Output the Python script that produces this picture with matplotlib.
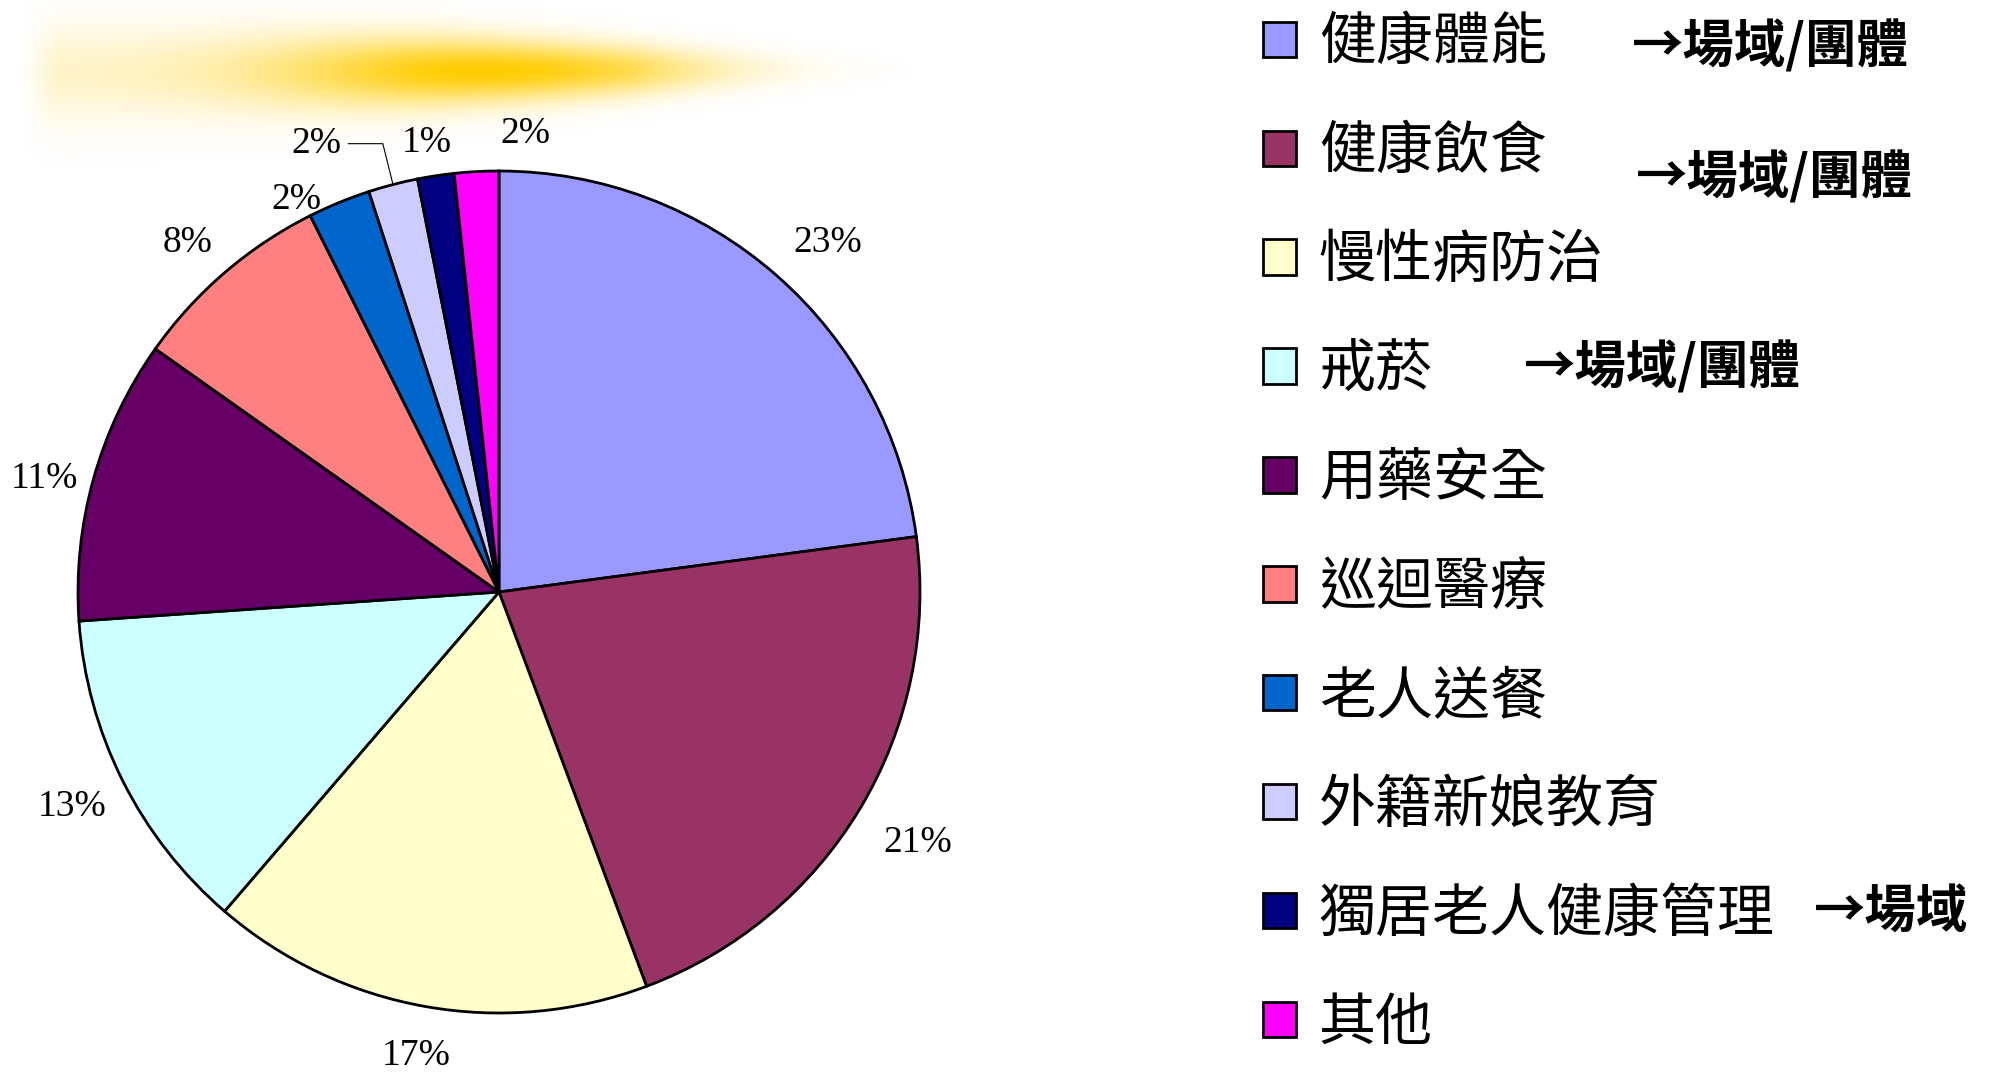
import matplotlib
matplotlib.use("Agg")
import matplotlib.pyplot as plt
import numpy as np

categories = ["健康體能", "健康飲食", "慢性病防治", "戒菸", "用藥安全",
              "巡迴醫療", "老人送餐", "外籍新娘教育", "獨居老人健康管理", "其他"]
shares = [22.9, 21.4, 17.0, 12.6, 10.9, 7.8, 2.4, 1.9, 1.4, 1.7]
colors = ["#9999FF", "#993366", "#FFFFCC", "#CCFFFF", "#660066",
          "#FF8080", "#0066CC", "#CCCCFF", "#000080", "#FF00FF"]
notes = ["→場域/團體", "→場域/團體", "", "→場域/團體", "", "", "", "", "→場域", ""]

# where the percent labels sit: distance from centre (radius=1) and angle nudge
label_radius = [1.14, 1.16, 1.12, 1.135, 1.113, 1.112, 1.05, 1.15, 1.08, 1.09]
label_nudge = [-2, 0, 0, 0, 1.7, 1.0, 5, 7.6, 0.5, -6.3]
# note positions in figure pixels (x of left edge, y of centre from top)
note_pos = {0: (1632, 47), 1: (1636, 178), 3: (1524, 368), 8: (1814, 912)}

W, H = 1991, 1078
plt.rcParams['font.family'] = ['Noto Sans CJK TC', 'DejaVu Sans']
fig = plt.figure(figsize=(W / 100, H / 100), dpi=100)

# yellow glow at top left
bg = fig.add_axes([0, 0, 1, 1], zorder=0)
bg.axis('off')
xs = np.arange(0, 1000)
ys = np.arange(0, 170)
gx, gy = np.meshgrid(xs, ys)
t = np.clip((gx - 20) / 920.0, 0, 1)
amp = np.where(t < 0.5, 0.2 + 0.8 * np.exp(-((t - 0.5) / 0.22) ** 2),
               np.exp(-((t - 0.5) / 0.27) ** 2) * np.clip((1 - t) * 3, 0, 1))
amp = amp * np.clip(t * 25, 0, 1)
amp[(gx < 20) | (gx > 940)] = 0
yc = 73 - 5 * t
sig = 50 * (1 - t) + 12 * t
alpha = amp * np.exp(-((gy - yc) / sig) ** 2)
img = np.zeros((len(ys), len(xs), 4))
img[..., 0] = 1.0
img[..., 1] = 0.8
img[..., 2] = 0.0
img[..., 3] = alpha
bg.imshow(img, extent=(0, 1000, 170, 0), interpolation='bilinear')
bg.set_xlim(0, W)
bg.set_ylim(H, 0)

# pie
R = 421
cx, cy = 499, 592
ax = fig.add_axes([(cx - R) / W, (H - cy - R) / H, 2 * R / W, 2 * R / H], zorder=1)
wedges, _ = ax.pie(shares, colors=colors, startangle=90, counterclock=False,
                   wedgeprops=dict(edgecolor='black', linewidth=2))
ax.set_xlim(-1, 1)
ax.set_ylim(-1, 1)
ax.set_aspect('equal')

for i, w in enumerate(wedges):
    mid = np.deg2rad((w.theta1 + w.theta2) / 2)
    ang = mid + np.deg2rad(label_nudge[i])
    r = label_radius[i]
    pos = (r * np.cos(ang), r * np.sin(ang))
    txt = f"{shares[i]:.0f}%"
    if i == 7:
        ax.annotate(txt, xy=(np.cos(mid), np.sin(mid)), xytext=pos,
                    ha='center', va='center', fontsize=27, family='Liberation Serif',
                    annotation_clip=False,
                    arrowprops=dict(arrowstyle='-', color='black', lw=0.8,
                                    connectionstyle='angle,angleA=0,angleB=104',
                                    shrinkA=3, shrinkB=0))
    else:
        ax.text(pos[0], pos[1], txt, ha='center', va='center', fontsize=27,
                family='Liberation Serif')

fig.legend(wedges, categories, loc='upper left', bbox_to_anchor=(1263 / W, 1 - 14 / H),
           frameon=False, fontsize=41, handlelength=0.58, handleheight=0.58,
           handletextpad=0.4, labelspacing=0.885, borderpad=0, borderaxespad=0)

for i, (px, py) in note_pos.items():
    fig.text(px / W, 1 - py / H, notes[i], ha='left', va='center', fontsize=37,
             fontweight='bold')

fig.savefig("out.png", dpi=100)
